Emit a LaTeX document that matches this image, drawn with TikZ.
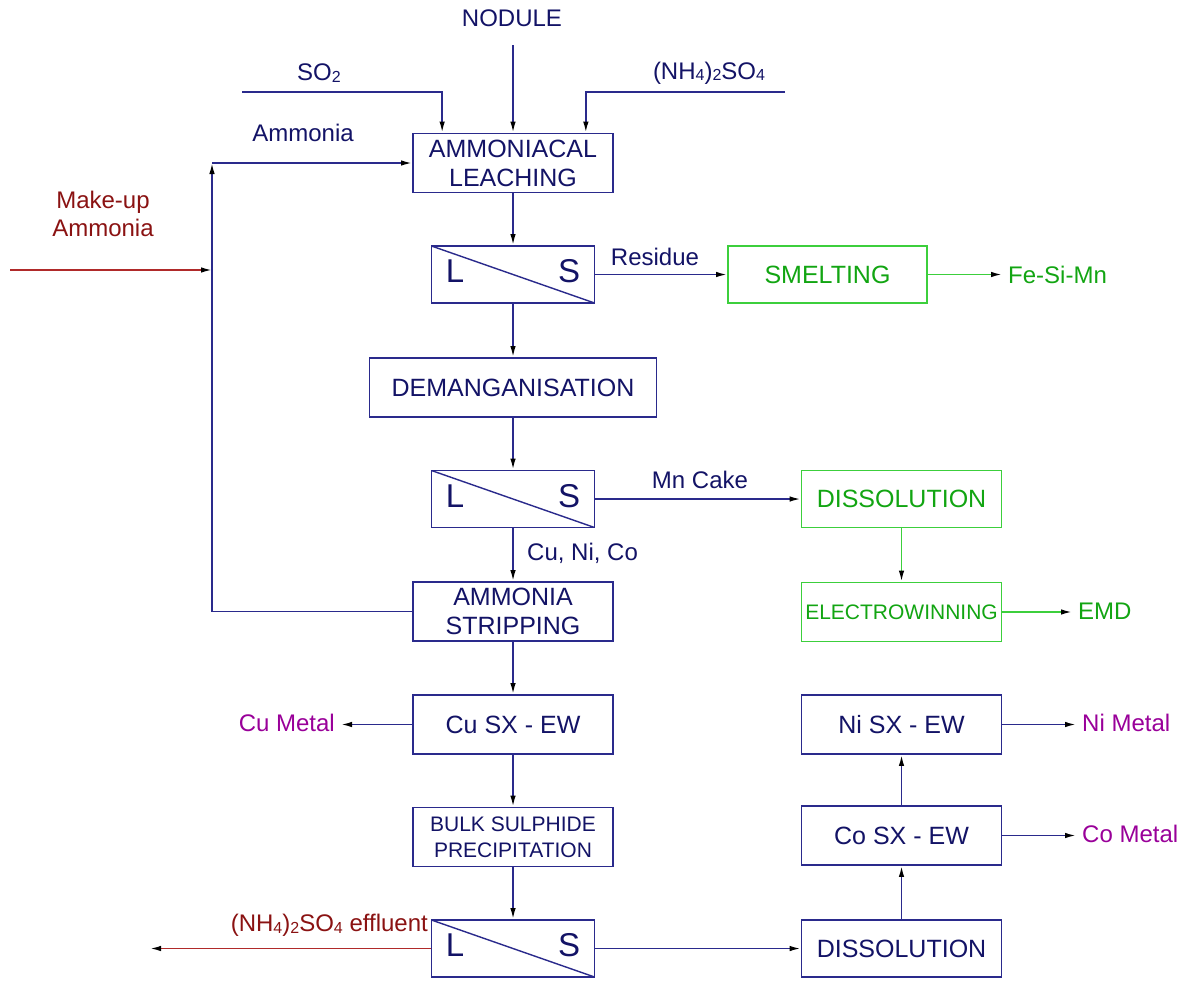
\documentclass[tikz,border=0pt]{standalone}
\usepackage{fontspec}
\setmainfont{Liberation Sans}
\usetikzlibrary{arrows.meta}

\definecolor{navyline}{HTML}{2A2A8C}
\definecolor{navytext}{HTML}{131366}
\definecolor{greenline}{HTML}{3CCF3C}
\definecolor{greentext}{HTML}{12A512}
\definecolor{redline}{HTML}{B02A2A}
\definecolor{redtext}{HTML}{8A1212}
\definecolor{metaltext}{HTML}{990099}

% small digits sitting on the baseline, as in chemical formulae
\newcommand{\lowsub}[1]{\raisebox{-1.5pt}{\fontsize{16}{16}\selectfont #1}}

\begin{document}
\begin{tikzpicture}[x=1pt,y=-1pt,
  >={Latex[length=11pt,width=5.5pt,color=black]},
  flow/.style={draw=navyline,line width=1.7pt,->},
  gflow/.style={draw=greenline,line width=1.7pt,->},
  rflow/.style={draw=redline,line width=1.7pt,->},
  unit/.style={draw=navyline,line width=1.7pt,fill=white,text=navytext,
    minimum width=200pt,minimum height=59pt,align=center,inner sep=0pt,
    font=\fontsize{25}{29}\selectfont},
  gunit/.style={unit,draw=greenline,text=greentext},
  sepbox/.style={draw=navyline,line width=1.7pt,fill=white,
    minimum width=163pt,minimum height=57pt,inner sep=0pt,
    path picture={\draw[navyline,line width=1.4pt]
      (path picture bounding box.north west) -- (path picture bounding box.south east);}},
  lsmark/.style={text=navytext,font=\fontsize{33}{33}\selectfont,inner sep=0pt},
  lbl/.style={text=navytext,font=\fontsize{24}{28}\selectfont,inner sep=0pt,align=center},
  glbl/.style={lbl,text=greentext},
  rlbl/.style={lbl,text=redtext},
  mlbl/.style={lbl,text=metaltext},
]
\useasboundingbox (0,0) rectangle (1185,980);

% ---------- main leaching line ----------
\node[unit] (leach) at (513,163) {AMMONIACAL\\LEACHING};
\node[sepbox] (sepA) at (513,274.5) {};
\node[unit,minimum width=287pt] (deman) at (513,387.5) {DEMANGANISATION};
\node[sepbox] (sepB) at (513,499) {};
\node[unit] (strip) at (513,611.5) {AMMONIA\\STRIPPING};
\node[unit] (cusx) at (513,724.5) {Cu SX - EW};
\node[unit,font=\fontsize{21}{26}\selectfont] (bulk) at (513,837) {BULK SULPHIDE\\PRECIPITATION};
\node[sepbox] (sepC) at (513,948.5) {};

% L / S marks of the solid-liquid separators
\foreach \s in {sepA,sepB,sepC}{
  \node[lsmark,anchor=west] (\s L) at ([xshift=15pt,yshift=3pt]\s.west) {L};
  \node[lsmark,anchor=east] (\s S) at ([xshift=-15pt,yshift=3pt]\s.east) {S};
}

% ---------- manganese branch ----------
\node[gunit,minimum width=199pt,minimum height=57pt] (smelt) at (827.5,274.5) {SMELTING};
\node[gunit,minimum height=57pt] (dissA) at (901.5,499) {DISSOLUTION};
\node[gunit,font=\fontsize{21}{25}\selectfont] (elec) at (901.5,612) {ELECTROWINNING};

% ---------- nickel / cobalt branch ----------
\node[unit,minimum height=57pt] (dissB) at (901.5,948.5) {DISSOLUTION};
\node[unit] (cosx) at (901.5,835.5) {Co SX - EW};
\node[unit] (nisx) at (901.5,724.5) {Ni SX - EW};

% ---------- feeds ----------
\node[lbl] (nodule) at (512,18) {NODULE};
\node[lbl] (so2) at (319,73) {SO\lowsub{2}};
\node[lbl] (amsulf) at (709,73) {(NH\lowsub{4})\lowsub{2}SO\lowsub{4}};
\node[lbl] (ammonia) at (303,133) {Ammonia};
\node[rlbl] (makeup) at (103,214) {Make-up\\Ammonia};

\coordinate (nodin) at (513,45);
\coordinate (so2start) at (242,92);
\coordinate (nhstart) at (785,92);
\coordinate (loopcorner) at (212,163);
\coordinate (mustart) at (10,270);
\coordinate (mujoin) at (212,270);

\draw[flow] (nodin) -- (leach.north);
\draw[flow] (so2start) -| ([xshift=30pt]leach.north west);
\draw[flow] (nhstart) -| ([xshift=-28pt]leach.north east);
\draw[rflow] (mustart) -- (mujoin);
\draw[flow] (strip.west) -| (loopcorner);
\draw[flow] (loopcorner) -- (leach.west);

% ---------- main line flow ----------
\draw[flow] (leach.south) -- (sepA.north);
\draw[flow] (sepA.south) -- (deman.north);
\draw[flow] (deman.south) -- (sepB.north);
\draw[flow] (sepB.south) -- (strip.north);
\draw[flow] (strip.south) -- (cusx.north);
\draw[flow] (cusx.south) -- (bulk.north);
\draw[flow] (bulk.south) -- (sepC.north);

\node[lbl,anchor=west] (cunico) at (527,553) {Cu, Ni, Co};

% residue to smelting
\node[lbl] (residue) at (655,257) {Residue};
\draw[flow] (sepA.east) -- (smelt.west);
\node[glbl,anchor=west] (fesimn) at (1008,275) {Fe-Si-Mn};
\draw[gflow,shorten >=6pt] (smelt.east) -- (smelt.east -| fesimn.west);

% manganese cake
\node[lbl] (mncake) at (700,480) {Mn Cake};
\draw[flow] (sepB.east) -- (dissA.west);
\draw[gflow] (dissA.south) -- (elec.north);
\node[glbl,anchor=west] (emd) at (1078,611) {EMD};
\draw[gflow,shorten >=6pt] (elec.east) -- (elec.east -| emd.west);

% copper product
\node[mlbl,anchor=east] (cumetal) at (335,723) {Cu Metal};
\draw[flow,shorten >=6pt] (cusx.west) -- (cusx.west -| cumetal.east);

% sulphide separation
\coordinate (effout) at (150,948.5);
\draw[rflow] (sepC.west) -- (effout);
\node[rlbl,anchor=south east] (effluent) at (428,937) {(NH\lowsub{4})\lowsub{2}SO\lowsub{4} effluent};
\draw[flow] (sepC.east) -- (dissB.west);
\draw[flow] (dissB.north) -- (cosx.south);
\draw[flow] (cosx.north) -- (nisx.south);

\node[mlbl,anchor=west] (nimetal) at (1082,723) {Ni Metal};
\draw[flow,shorten >=6pt] (nisx.east) -- (nisx.east -| nimetal.west);
\node[mlbl,anchor=west] (cometal) at (1082,834) {Co Metal};
\draw[flow,shorten >=6pt] (cosx.east) -- (cosx.east -| cometal.west);
\end{tikzpicture}
\end{document}
